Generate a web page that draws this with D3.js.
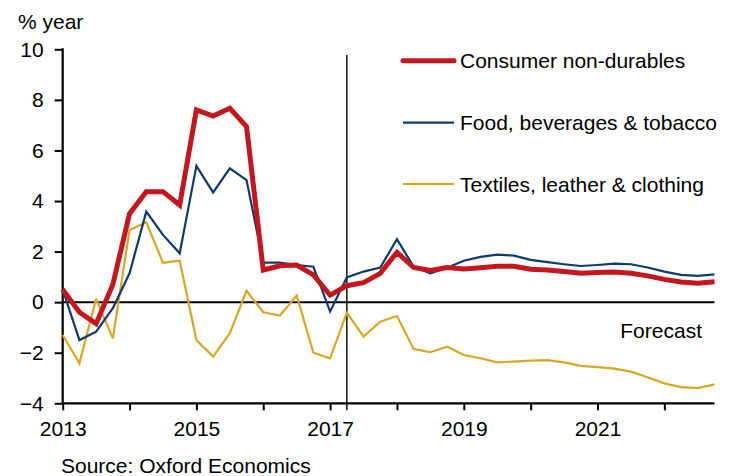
<!DOCTYPE html>
<html>
<head>
<meta charset="utf-8">
<script src="https://cdn.jsdelivr.net/npm/d3@7"></script>
<style>
  html, body { margin: 0; padding: 0; background: #fff; }
  svg { display: block; font-family: "Liberation Sans", Arial, sans-serif; }
</style>
</head>
<body>
<svg id="chart" width="738" height="476"></svg>
<script>
// ---- Data (quarterly, 2013 Q1 .. 2022 Q4) ----
const startYear = 2013;
const quarters = d3.range(40).map(i => startYear + i * 0.25);

const consumerNonDurables = [
  0.5, -0.4, -0.85, 0.7, 3.5, 4.37, 4.37, 3.84,
  7.6, 7.36, 7.67, 6.94, 1.27, 1.44, 1.47, 1.08,
  0.28, 0.65, 0.77, 1.14, 1.97, 1.37, 1.25, 1.37,
  1.31, 1.36, 1.42, 1.42, 1.3, 1.27, 1.21, 1.14,
  1.17, 1.19, 1.14, 1.04, 0.9, 0.8, 0.75, 0.81
];
const foodBeveragesTobacco = [
  0.5, -1.5, -1.17, -0.24, 1.14, 3.58, 2.66, 1.93,
  5.39, 4.34, 5.29, 4.83, 1.56, 1.56, 1.47, 1.4,
  -0.37, 0.98, 1.21, 1.37, 2.49, 1.4, 1.14, 1.36,
  1.64, 1.79, 1.88, 1.84, 1.67, 1.58, 1.5, 1.43,
  1.47, 1.52, 1.5, 1.37, 1.21, 1.08, 1.04, 1.1
];
const textilesLeatherClothing = [
  -1.3, -2.42, 0.13, -1.43, 2.85, 3.16, 1.56, 1.64,
  -1.5, -2.15, -1.23, 0.45, -0.4, -0.53, 0.26, -2.0,
  -2.22, -0.41, -1.36, -0.77, -0.55, -1.85, -1.98, -1.76,
  -2.09, -2.22, -2.38, -2.35, -2.31, -2.29, -2.38, -2.52,
  -2.57, -2.63, -2.75, -2.97, -3.21, -3.36, -3.4, -3.25
];

const seriesNames = ["Consumer non-durables", "Food, beverages & tobacco", "Textiles, leather & clothing"];
const xTickYears = [2013, 2014, 2015, 2016, 2017, 2018, 2019, 2020, 2021, 2022];
const xTickLabels = ["2013", "", "2015", "", "2017", "", "2019", "", "2021", ""];
const yTicks = [-4, -2, 0, 2, 4, 6, 8, 10];
const forecastStart = 2017.25;
const yTitle = "% year";
const forecastLabel = "Forecast";
const sourceText = "Source: Oxford Economics";

// ---- Layout ----
const svg = d3.select("#chart");
const mLeft = 62.7, mRight = 714.5, mTop = 49.3, mBottom = 403.3;
const FS = 21;

const x = d3.scaleLinear().domain([2013, 2022.75]).range([mLeft, mRight]);
const y = d3.scaleLinear().domain([-4, 10]).range([mBottom, mTop]);

const styles = [
  { color: "#C3161F", width: 5 },
  { color: "#0B3A6F", width: 2.2 },
  { color: "#D9A624", width: 2.2 }
];
const allSeries = [consumerNonDurables, foodBeveragesTobacco, textilesLeatherClothing];

// Y axis
const yAxis = d3.axisLeft(y).tickValues(yTicks).tickSize(8).tickPadding(11).tickFormat(d3.format("d"));
const gy = svg.append("g").attr("transform", `translate(${mLeft},0)`).call(yAxis);
gy.select(".domain").remove();
gy.selectAll(".tick line").attr("stroke", "#000").attr("stroke-width", 2);
gy.selectAll("text").attr("font-size", FS).attr("fill", "#000").attr("font-family", "Liberation Sans, Arial, sans-serif");
svg.append("line").attr("x1", mLeft).attr("x2", mLeft).attr("y1", mTop - 1).attr("y2", mBottom + 1)
  .attr("stroke", "#000").attr("stroke-width", 2.2);

// X axis
const xAxis = d3.axisBottom(x).tickValues(xTickYears).tickSize(7).tickPadding(11)
  .tickFormat((d, i) => xTickLabels[i]);
const gx = svg.append("g").attr("transform", `translate(0,${mBottom})`).call(xAxis);
gx.select(".domain").remove();
gx.selectAll(".tick line").attr("stroke", "#000").attr("stroke-width", 2);
gx.selectAll("text").attr("font-size", FS).attr("fill", "#000").attr("font-family", "Liberation Sans, Arial, sans-serif");
svg.append("line").attr("x1", mLeft - 1).attr("x2", mRight).attr("y1", mBottom).attr("y2", mBottom)
  .attr("stroke", "#000").attr("stroke-width", 2.2);

// Zero line
svg.append("line").attr("x1", mLeft).attr("x2", mRight).attr("y1", y(0)).attr("y2", y(0))
  .attr("stroke", "#000").attr("stroke-width", 2);

// Forecast line
svg.append("line").attr("x1", x(forecastStart)).attr("x2", x(forecastStart))
  .attr("y1", 55).attr("y2", mBottom + 7)
  .attr("stroke", "#111").attr("stroke-width", 1.5);

// Series lines (red on top)
const line = d3.line().x((d, i) => x(quarters[i])).y(d => y(d));
[2, 1, 0].forEach(k => {
  svg.append("path").datum(allSeries[k])
    .attr("d", line)
    .attr("fill", "none")
    .attr("stroke", styles[k].color)
    .attr("stroke-width", styles[k].width)
    .attr("stroke-linejoin", "miter")
    .attr("stroke-miterlimit", 3);
});

// Legend
const legendY = [60.7, 122.7, 184];
seriesNames.forEach((name, k) => {
  svg.append("line").attr("x1", 403).attr("x2", 454).attr("y1", legendY[k]).attr("y2", legendY[k])
    .attr("stroke", styles[k].color).attr("stroke-width", styles[k].width)
    .attr("stroke-linecap", k === 0 ? "round" : "butt");
  svg.append("text").attr("x", 460).attr("y", legendY[k] + 7.5)
    .attr("font-size", FS).attr("fill", "#000").text(name);
});

// Texts
svg.append("text").attr("x", 18).attr("y", 29).attr("font-size", FS).attr("fill", "#000").text(yTitle);
svg.append("text").attr("x", 702).attr("y", 338.3).attr("text-anchor", "end")
  .attr("font-size", FS).attr("fill", "#000").text(forecastLabel);
svg.append("text").attr("x", 61).attr("y", 472.5).attr("font-size", FS).attr("fill", "#000").text(sourceText);
</script>
</body>
</html>
